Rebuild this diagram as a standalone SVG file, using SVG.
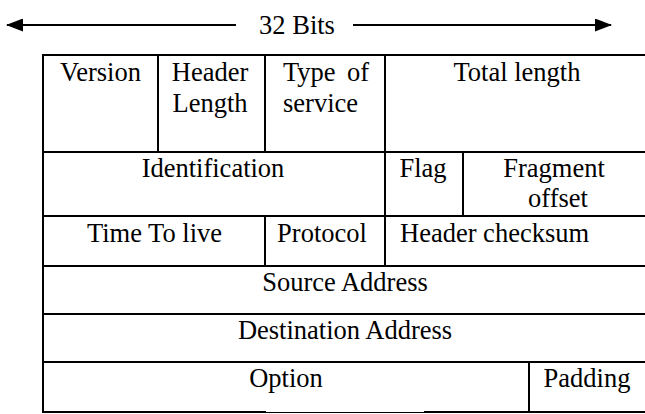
<svg xmlns="http://www.w3.org/2000/svg" width="645" height="414" viewBox="0 0 645 414">
  <style>
    .cell { fill: none; stroke: #000; stroke-width: 2; }
    .rule { stroke: #000; stroke-width: 2; fill: none; }
    .lbl { font-family: "Liberation Serif", "Times New Roman", serif; font-size: 26.5px; fill: #000; }
    .c { text-anchor: middle; }
    .e { text-anchor: end; }
  </style>
  <defs>
    <marker id="head" viewBox="0 0 17 13" refX="16" refY="6.5" markerWidth="17" markerHeight="13" markerUnits="userSpaceOnUse" orient="auto-start-reverse">
      <path d="M0,0 L17,6.5 L0,13 z" fill="#000"/>
    </marker>
  </defs>

  <rect width="645" height="414" fill="#fff"/>

  <!-- width indicator above the header -->
  <g id="connectors">
    <line class="rule" x1="7" y1="25" x2="236" y2="25" marker-start="url(#head)"/>
    <line class="rule" x1="353" y1="25" x2="611" y2="25" marker-end="url(#head)"/>
  </g>
  <g id="width-label">
    <text class="lbl c" x="297" y="34">32 Bits</text>
  </g>

  <!-- row 1 -->
  <g id="version">
    <rect class="cell" x="43" y="55" width="115" height="97"/>
    <text class="lbl c" x="100.5" y="81">Version</text>
  </g>
  <g id="header-length">
    <rect class="cell" x="158" y="55" width="107" height="97"/>
    <text class="lbl c" x="210" y="81">Header</text>
    <text class="lbl c" x="210" y="112">Length</text>
  </g>
  <g id="type-of-service">
    <rect class="cell" x="265" y="55" width="120" height="97"/>
    <text class="lbl" x="283" y="81">Type</text>
    <text class="lbl e" x="369" y="81">of</text>
    <text class="lbl" x="283" y="112">service</text>
  </g>
  <g id="total-length">
    <rect class="cell" x="385" y="55" width="265" height="97"/>
    <text class="lbl c" x="517" y="81">Total length</text>
  </g>

  <!-- row 2 -->
  <g id="identification">
    <rect class="cell" x="43" y="152" width="342" height="64"/>
    <text class="lbl c" x="213" y="177">Identification</text>
  </g>
  <g id="flag">
    <rect class="cell" x="385" y="152" width="78" height="64"/>
    <text class="lbl c" x="423" y="177">Flag</text>
  </g>
  <g id="fragment-offset">
    <rect class="cell" x="463" y="152" width="187" height="64"/>
    <text class="lbl c" x="554" y="177">Fragment</text>
    <text class="lbl c" x="558" y="207">offset</text>
  </g>

  <!-- row 3 -->
  <g id="time-to-live">
    <rect class="cell" x="43" y="216" width="222" height="50"/>
    <text class="lbl c" x="154.5" y="242">Time To live</text>
  </g>
  <g id="protocol">
    <rect class="cell" x="265" y="216" width="120" height="50"/>
    <text class="lbl c" x="322" y="242">Protocol</text>
  </g>
  <g id="header-checksum">
    <rect class="cell" x="385" y="216" width="265" height="50"/>
    <text class="lbl" x="400" y="242">Header checksum</text>
  </g>

  <!-- rows 4 and 5 -->
  <g id="source-address">
    <rect class="cell" x="43" y="266" width="607" height="48"/>
    <text class="lbl c" x="345" y="291">Source Address</text>
  </g>
  <g id="destination-address">
    <rect class="cell" x="43" y="314" width="607" height="48"/>
    <text class="lbl c" x="345" y="339">Destination Address</text>
  </g>

  <!-- row 6 -->
  <g id="option">
    <path class="rule" d="M529,362 H43 V412 H266"/>
    <line x1="266" y1="412.5" x2="424" y2="412.5" stroke="#000" stroke-width="1"/>
    <path class="rule" d="M424,412 H529 V362"/>
    <text class="lbl c" x="286" y="387">Option</text>
  </g>
  <g id="padding">
    <path class="rule" d="M529,362 H650 M529,412 H650"/>
    <text class="lbl c" x="587" y="387">Padding</text>
  </g>
</svg>
